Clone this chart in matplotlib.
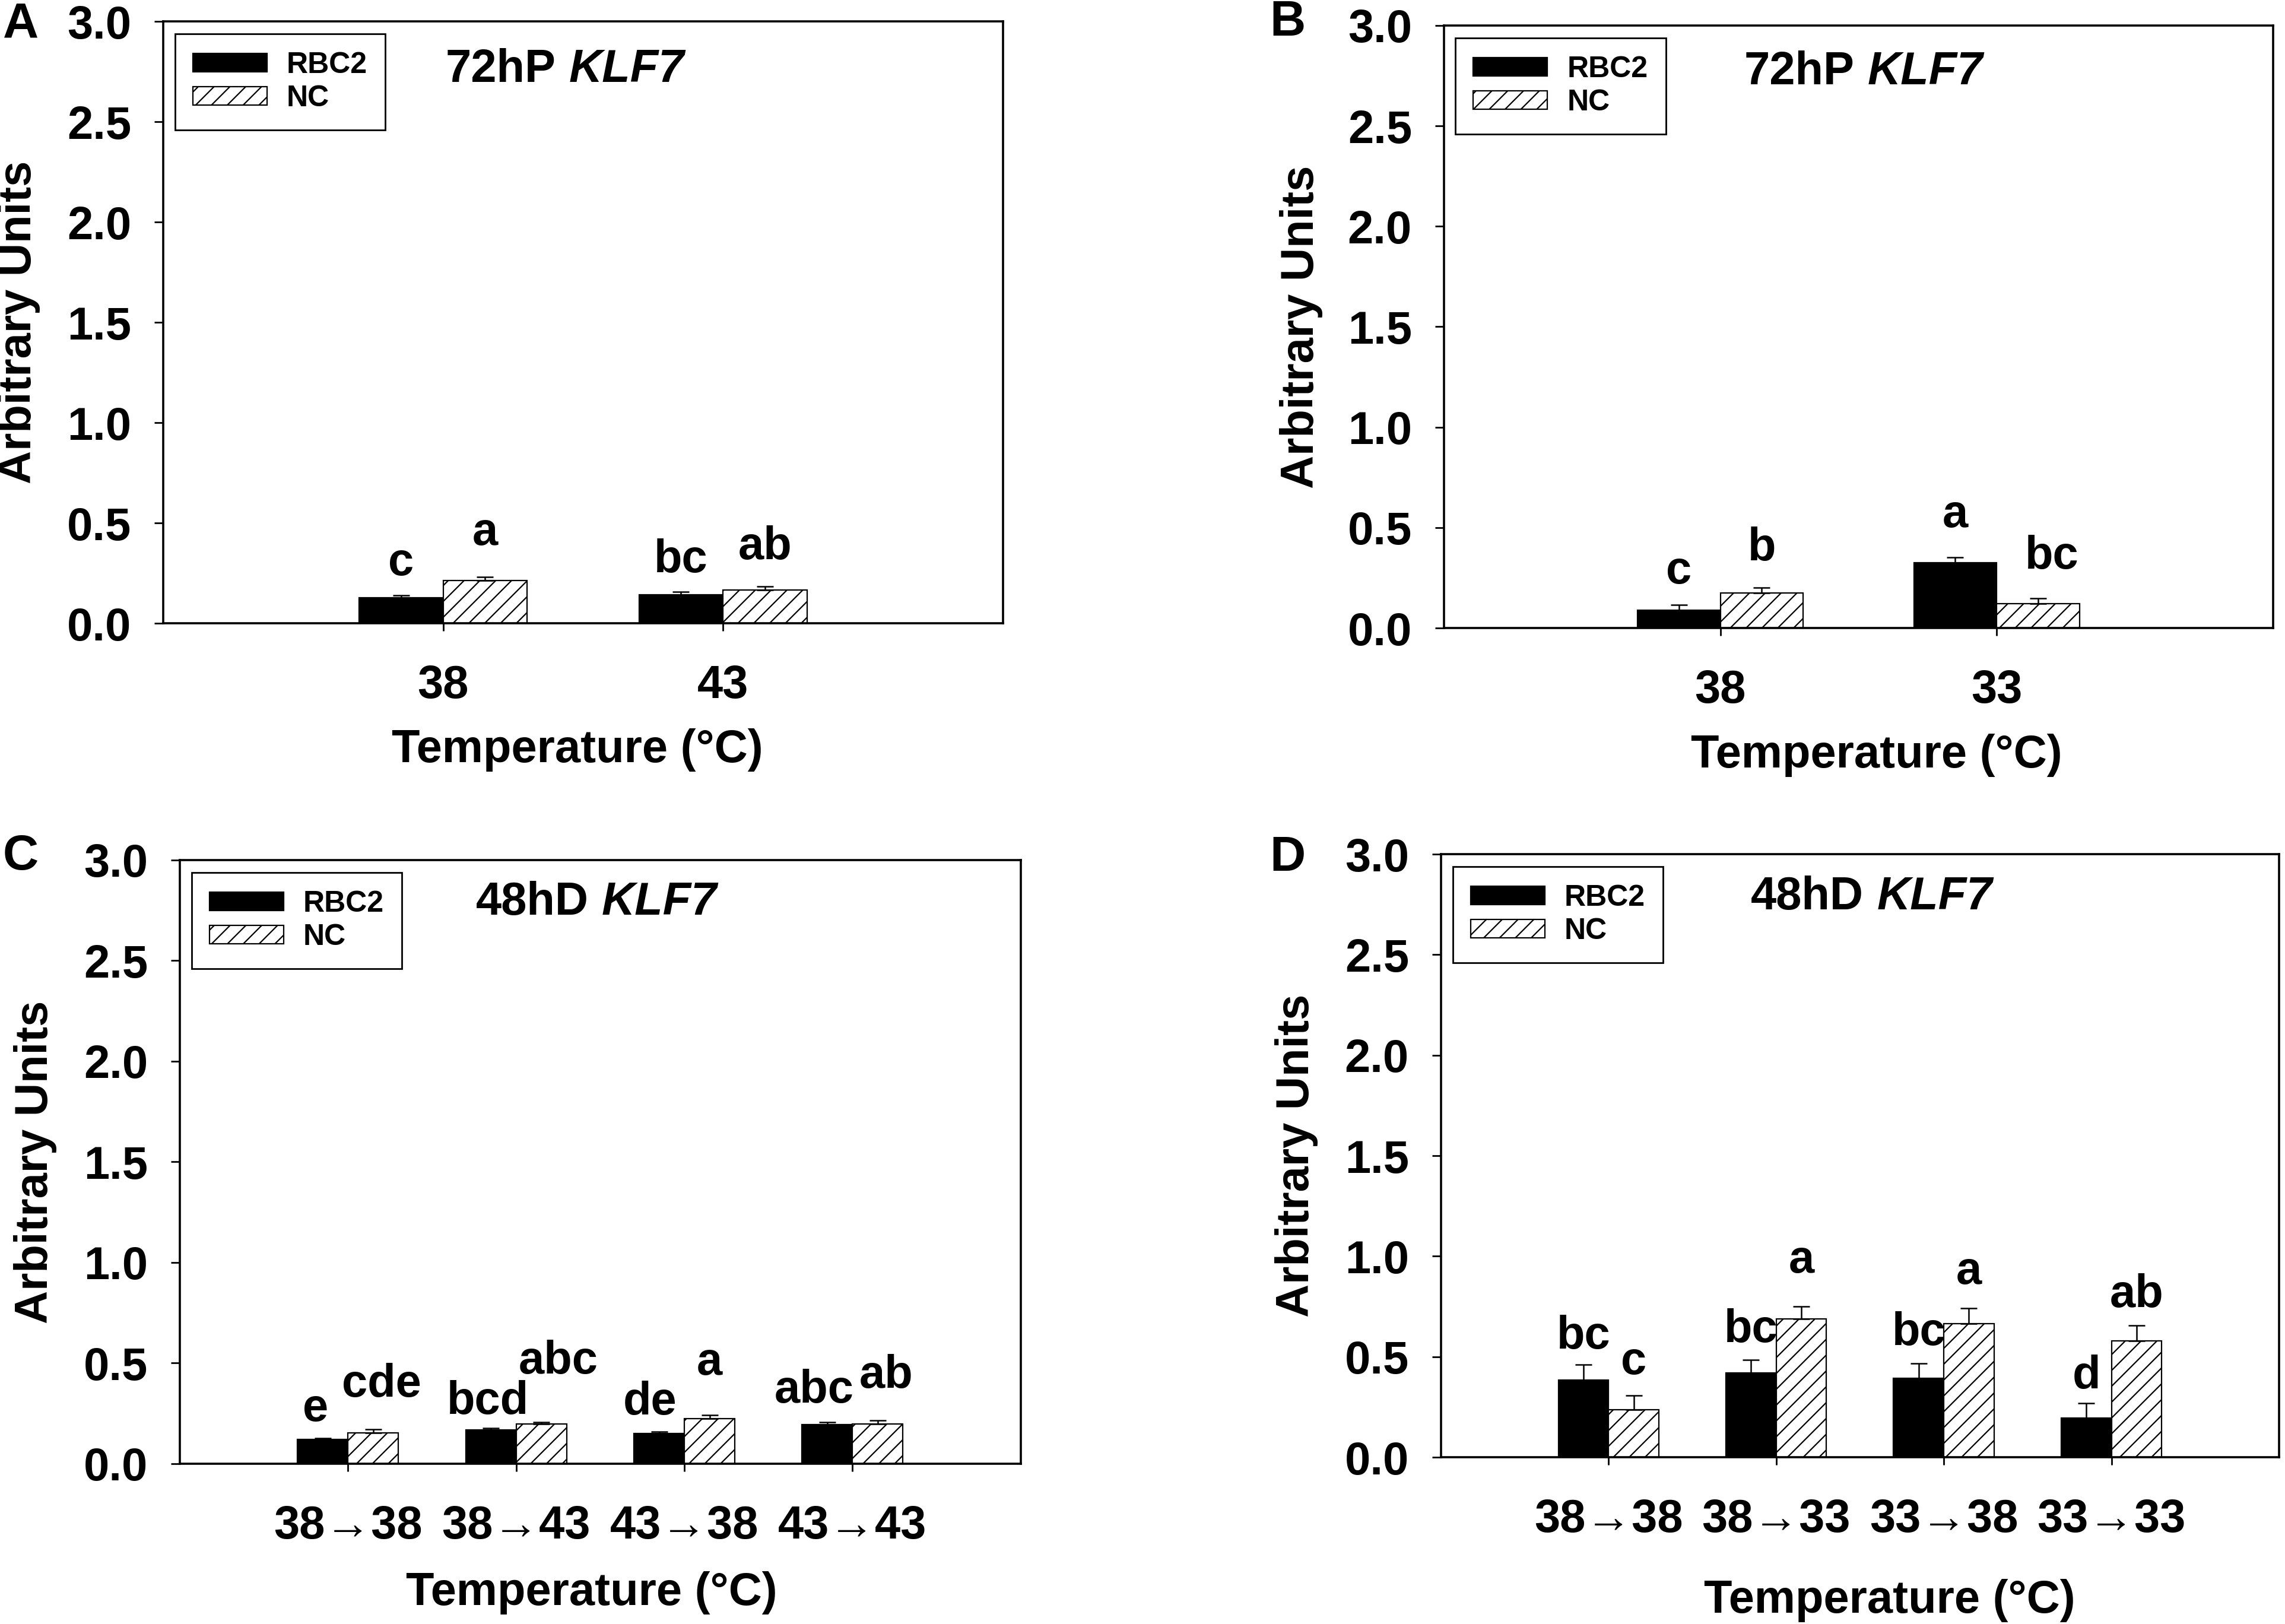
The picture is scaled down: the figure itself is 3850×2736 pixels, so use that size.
import matplotlib
matplotlib.use("Agg")
import matplotlib.pyplot as plt
import numpy as np

plt.rcParams['font.family'] = ['Liberation Sans', 'DejaVu Sans']
plt.rcParams['font.weight'] = 'bold'

# ---- data ----
temps_a = ["38", "43"]
rbc2_a = [0.128, 0.143]
rbc2_a_err = [0.010, 0.015]
nc_a = [0.214, 0.166]
nc_a_err = [0.016, 0.018]
letters_rbc2_a = ["c", "bc"]
letters_nc_a = ["a", "ab"]

temps_b = ["38", "33"]
rbc2_b = [0.089, 0.324]
rbc2_b_err = [0.026, 0.028]
nc_b = [0.174, 0.120]
nc_b_err = [0.026, 0.028]
letters_rbc2_b = ["c", "a"]
letters_nc_b = ["b", "bc"]

temps_c = ["38\u219238", "38\u219243", "43\u219238", "43\u219243"]
rbc2_c = [0.121, 0.169, 0.149, 0.195]
rbc2_c_err = [0.005, 0.008, 0.010, 0.012]
nc_c = [0.154, 0.197, 0.225, 0.197]
nc_c_err = [0.018, 0.008, 0.018, 0.018]
letters_rbc2_c = ["e", "bcd", "de", "abc"]
letters_nc_c = ["cde", "abc", "a", "ab"]

temps_d = ["38\u219238", "38\u219233", "33\u219238", "33\u219233"]
rbc2_d = [0.384, 0.420, 0.394, 0.195]
rbc2_d_err = [0.078, 0.065, 0.074, 0.075]
nc_d = [0.235, 0.687, 0.665, 0.579]
nc_d_err = [0.071, 0.063, 0.075, 0.078]
letters_rbc2_d = ["bc", "bc", "bc", "d"]
letters_nc_d = ["c", "a", "a", "ab"]

# ---- layout (letter baseline lift above error bar, x nudges) ----
panels = [
    dict(tag="A", rect=[0.0714, 0.6162, 0.3675, 0.3706], title="72hP", temps=temps_a,
         rbc2=rbc2_a, rbc2_err=rbc2_a_err, nc=nc_a, nc_err=nc_a_err,
         lr=letters_rbc2_a, ln=letters_nc_a,
         lift_r=[0.103, 0.097], lift_n=[0.161, 0.137],
         dx_r=[0, 0], dx_n=[0, 0],
         title_xy=(0.336, 0.92), xlab=(0.493, -0.21), tag_xy=(0.009, 0.985)),
    dict(tag="B", rect=[0.6319, 0.6133, 0.3629, 0.3710], title="72hP", temps=temps_b,
         rbc2=rbc2_b, rbc2_err=rbc2_b_err, nc=nc_b, nc_err=nc_b_err,
         lr=letters_rbc2_b, ln=letters_nc_b,
         lift_r=[0.106, 0.151], lift_n=[0.137, 0.147],
         dx_r=[0, 0], dx_n=[0, 0.05],
         title_xy=(0.362, 0.923), xlab=(0.522, -0.211), tag_xy=(0.5636, 0.986)),
    dict(tag="C", rect=[0.0787, 0.0987, 0.3680, 0.3717], title="48hD", temps=temps_c,
         rbc2=rbc2_c, rbc2_err=rbc2_c_err, nc=nc_c, nc_err=nc_c_err,
         lr=letters_rbc2_c, ln=letters_nc_c,
         lift_r=[0.085, 0.070, 0.087, 0.097], lift_n=[0.162, 0.242, 0.200, 0.162],
         dx_r=[-0.045, -0.02, -0.055, -0.08], dx_n=[0.05, 0.10, 0.0, 0.05],
         title_xy=(0.352, 0.93), xlab=(0.49, -0.214), tag_xy=(0.009, 0.4726)),
    dict(tag="D", rect=[0.6306, 0.1027, 0.3668, 0.3713], title="48hD", temps=temps_d,
         rbc2=rbc2_d, rbc2_err=rbc2_d_err, nc=nc_d, nc_err=nc_d_err,
         lr=letters_rbc2_d, ln=letters_nc_d,
         lift_r=[0.077, 0.087, 0.091, 0.074], lift_n=[0.108, 0.169, 0.121, 0.091],
         dx_r=[0, 0, 0, 0], dx_n=[0, 0, 0, 0],
         title_xy=(0.37, 0.929), xlab=(0.535, -0.238), tag_xy=(0.5636, 0.4719)),
]

# dpi 160 so that the '//' hatch spacing matches the original
DPI = 160
k = 200 / DPI
FS = 28 * k
plt.rcParams['hatch.linewidth'] = 0.8 * k

fig = plt.figure(figsize=(3850 / DPI, 2736 / DPI), dpi=DPI)
w = 0.3

for p in panels:
    ax = fig.add_axes(p["rect"])
    n = len(p["temps"])
    x = np.arange(1, n + 1)
    rbc2 = np.array(p["rbc2"])
    nc = np.array(p["nc"])
    b1 = ax.bar(x - w / 2, rbc2, w, color='black', edgecolor='black', linewidth=0.8 * k,
                label='RBC2', zorder=2)
    b2 = ax.bar(x + w / 2, nc, w, color='white', edgecolor='black', linewidth=0.8 * k,
                hatch='//', label='NC', zorder=2)
    ax.errorbar(x - w / 2, rbc2, yerr=[np.zeros(n), p["rbc2_err"]], fmt='none',
                ecolor='black', elinewidth=0.9 * k, capsize=5.2 * k, capthick=0.9 * k, zorder=3)
    ax.errorbar(x + w / 2, nc, yerr=[np.zeros(n), p["nc_err"]], fmt='none',
                ecolor='black', elinewidth=0.9 * k, capsize=5.2 * k, capthick=0.9 * k, zorder=3)

    for i in range(n):
        ax.text(x[i] - w / 2 + p["dx_r"][i], rbc2[i] + p["rbc2_err"][i] + p["lift_r"][i],
                p["lr"][i], ha='center', va='baseline', fontsize=FS, fontweight='bold')
        ax.text(x[i] + w / 2 + p["dx_n"][i], nc[i] + p["nc_err"][i] + p["lift_n"][i],
                p["ln"][i], ha='center', va='baseline', fontsize=FS, fontweight='bold')

    ax.set_xlim(0, n + 1)
    ax.set_ylim(0, 3.0)
    ax.set_yticks(np.arange(0, 3.01, 0.5))
    ax.set_yticklabels([f"{v:.1f}" for v in np.arange(0, 3.01, 0.5)])
    ax.set_xticks(x)
    ax.set_xticklabels(p["temps"])
    ax.tick_params(axis='y', direction='out', length=5.4 * k, width=1.0 * k, pad=14 * k,
                   labelsize=FS)
    ax.tick_params(axis='x', direction='out', length=4.8 * k, width=1.0 * k, pad=20 * k,
                   labelsize=FS)
    for s in ax.spines.values():
        s.set_linewidth(1.3 * k)

    ax.set_ylabel("Arbitrary Units", fontsize=FS, fontweight='bold', va='center')
    ax.yaxis.set_label_coords(-0.172, 0.5)
    ax.set_xlabel("Temperature (\u00b0C)", fontsize=FS, fontweight='bold', va='center')
    ax.xaxis.set_label_coords(p["xlab"][0], p["xlab"][1])

    t1 = ax.text(p["title_xy"][0], p["title_xy"][1], p["title"], transform=ax.transAxes,
                 ha='left', va='center', fontsize=FS, fontweight='bold')
    ax.annotate("KLF7", xy=(1, 0), xycoords=t1, xytext=(8 * k, 0), textcoords='offset points',
                ha='left', va='bottom', fontsize=FS, fontweight='bold', fontstyle='italic')

    leg = ax.legend(handles=[b1, b2], loc='upper left', bbox_to_anchor=(0.014, 0.979),
                    borderaxespad=0, fontsize=18 * k, frameon=True, fancybox=False,
                    edgecolor='black', framealpha=1, handlelength=2.5, handleheight=0.58,
                    labelspacing=0.2, borderpad=0.6, handletextpad=0.66)
    leg.get_frame().set_linewidth(1.0 * k)

    fig.text(p["tag_xy"][0], p["tag_xy"][1], p["tag"], ha='center', va='center',
             fontsize=30 * k, fontweight='bold')

fig.savefig("out.png", dpi=DPI)
